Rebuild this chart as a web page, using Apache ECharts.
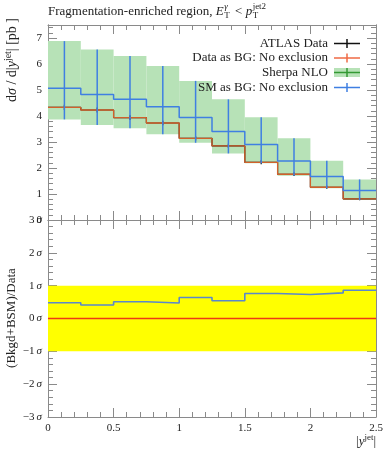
<!DOCTYPE html>
<html><head><meta charset="utf-8">
<script src="https://cdn.jsdelivr.net/npm/echarts@6/dist/echarts.min.js"></script>
<style>html,body{margin:0;padding:0;background:#fff}#c{width:389px;height:450px}</style>
</head><body><div id="c"></div>
<script>
// ---- data ----
const binEdges   = [0, 0.25, 0.5, 0.75, 1.0, 1.25, 1.5, 1.75, 2.0, 2.25, 2.5];
const dataVals   = [4.33, 4.23, 3.94, 3.73, 3.14, 2.85, 2.22, 1.76, 1.26, 0.81];
const dataErr    = [0.10, 0.10, 0.09, 0.09, 0.08, 0.08, 0.08, 0.07, 0.06, 0.05];
const smVals     = [5.07, 4.83, 4.64, 4.36, 3.94, 3.40, 2.90, 2.27, 1.67, 1.13];
const sherpaLo   = [3.87, 3.65, 3.53, 3.30, 2.97, 2.56, 2.18, 1.70, 1.22, 0.77];
const sherpaHi   = [6.88, 6.56, 6.31, 5.92, 5.35, 4.64, 3.95, 3.14, 2.28, 1.56];
const dataSigma  = [0, 0, 0, 0, 0, 0, 0, 0, 0, 0];
const smSigma    = [0.48, 0.41, 0.51, 0.47, 0.64, 0.54, 0.76, 0.73, 0.78, 0.86];
const sigmaBand  = [-1, 1];
const xTickLabels = ['0', '0.5', '1', '1.5', '2', '2.5'];
const yTopLabels  = ['0', '1', '2', '3', '4', '5', '6', '7'];
const ySigmaLabels = ['−3', '−2', '−1', '0', '1', '2', '3'];
const legendNames = ['ATLAS Data', 'Data as BG: No exclusion', 'Sherpa NLO', 'SM as BG: No exclusion'];

// ---- helpers ----
const SERIF = '"Liberation Serif", "DejaVu Serif", serif';
const nb = binEdges.length - 1;
function stepData(vals) {
  return binEdges.map((e, i) => [e, vals[Math.min(i, vals.length - 1)]]);
}
function bandData(lo, hi) {
  const out = [];
  for (let i = 0; i < nb; i++) out.push([binEdges[i], binEdges[i + 1], lo[i], hi[i]]);
  return out;
}
function errData(lo, hi) {
  const out = [];
  for (let i = 0; i < nb; i++) out.push([(binEdges[i] + binEdges[i + 1]) / 2, lo[i], hi[i]]);
  return out;
}
function rectRender(fill) {
  return function (params, api) {
    const p0 = api.coord([api.value(0), api.value(3)]);
    const p1 = api.coord([api.value(1), api.value(2)]);
    return { type: 'rect', shape: { x: p0[0], y: p0[1], width: p1[0] - p0[0], height: p1[1] - p0[1] },
      style: { fill: fill }, silent: true };
  };
}
function errRender(color, w) {
  return function (params, api) {
    const a = api.coord([api.value(0), api.value(1)]);
    const b = api.coord([api.value(0), api.value(2)]);
    return { type: 'line', shape: { x1: a[0], y1: a[1], x2: b[0], y2: b[1] },
      style: { stroke: color, lineWidth: w }, silent: true };
  };
}
function tickLabelX(v) {
  const idx = xTickLabels.findIndex(t => Math.abs(parseFloat(t) - v) < 1e-6);
  return idx >= 0 ? xTickLabels[idx] : '';
}
const canvas = document.createElement('canvas');
const ctx = canvas.getContext('2d');
function tw(text, font) { ctx.font = font; return ctx.measureText(text).width; }

const AX = '#8a8a8a';
function xAxisCfg(grid, pos, labels) {
  return {
    gridIndex: grid, type: 'value', position: pos, min: 0, max: 2.5, interval: 0.5,
    axisLine: { show: true, onZero: false, lineStyle: { color: AX, width: 1 } },
    axisTick: { show: true, inside: true, length: 9, lineStyle: { color: AX } },
    minorTick: { show: true, splitNumber: 5, length: 5, lineStyle: { color: AX } },
    splitLine: { show: false },
    axisLabel: labels ? { show: true, margin: 6, color: '#222', fontFamily: SERIF, fontSize: 11,
      formatter: tickLabelX } : { show: false }
  };
}
function yAxisCfg(grid, pos, min, max, interval, len, labels, minor, formatter) {
  return {
    gridIndex: grid, type: 'value', position: pos, min: min, max: max, interval: interval,
    axisLine: { show: true, onZero: false, lineStyle: { color: AX, width: 1 } },
    axisTick: { show: true, inside: true, length: len, lineStyle: { color: AX } },
    minorTick: minor ? { show: true, splitNumber: 5, length: 5, lineStyle: { color: AX } } : { show: false },
    splitLine: { show: false },
    axisLabel: labels ? { show: true, margin: 6, color: '#222', fontFamily: SERIF, fontSize: 11,
      formatter: formatter, rich: {
        n: { fontFamily: SERIF, fontSize: 11, color: '#222' },
        s: { fontFamily: SERIF, fontSize: 11, fontStyle: 'italic', color: '#222', padding: [0, 0, 0, 2] } } }
      : { show: false }
  };
}
const topFmt = v => {
  const i = yTopLabels.indexOf(String(v));
  return i >= 0 ? yTopLabels[i] : '';
};
const sigFmt = v => {
  const i = Math.round(v) + 3;
  return (Math.abs(v - Math.round(v)) < 1e-6 && ySigmaLabels[i] !== undefined) ? '{n|' + ySigmaLabels[i] + '}{s|σ}' : '';
};

// ---- colours ----
const GREEN = '#b7e2b7', BLUE = '#3f7fe2', ORANGE = '#d2612a', BLACK = '#111', RED = '#ee3a14', YELLOW = '#ffff00';

// ---- graphics (title, axis titles, legend) ----
const g = [];
const F13 = '13px ' + SERIF, F13I = 'italic 13px ' + SERIF, F9 = '9px ' + SERIF, F9I = 'italic 9px ' + SERIF;
const F14 = '14px ' + SERIF, F14I = 'italic 14px ' + SERIF, F10 = '10px ' + SERIF;
function txt(x, y, text, font, align) {
  g.push({ type: 'text', x: x, y: y, silent: true, z: 100,
    style: { text: text, font: font, fill: '#222', align: align || 'left', verticalAlign: 'middle' } });
}
// title
(function () {
  let x = 48; const y = 12;
  const t1 = 'Fragmentation-enriched region, ';
  txt(x, y, t1, F13); x += tw(t1, F13);
  txt(x, y, 'E', F13I); x += tw('E', F13I) + 0.5;
  txt(x, y + 4, 'T', F9); txt(x, y - 5, 'γ', F9I);
  x += Math.max(tw('T', F9), tw('γ', F9I)) + 2;
  txt(x, y, ' < ', F13); x += tw(' < ', F13);
  txt(x, y, 'p', F13I); x += tw('p', F13I) + 0.5;
  txt(x, y + 4, 'T', F9); txt(x, y - 5, 'jet2', F9);
})();
// y-axis titles
g.push({ type: 'text', x: 12, y: 18, rotation: Math.PI / 2, silent: true, z: 100,
  style: { text: '{a|d}{i|σ}{a| / d|}{i|y}{p|jet}{a|| [pb ]}', align: 'right', verticalAlign: 'middle',
    rich: { a: { font: F14, fill: '#222' }, i: { font: F14I, fill: '#222' },
      p: { font: F10, fill: '#222', padding: [0, 0, 8, 0] } } } });
g.push({ type: 'text', x: 12, y: 318, rotation: Math.PI / 2, silent: true, z: 100,
  style: { text: '(Bkgd+BSM)/Data', font: F13, fill: '#222', align: 'center', verticalAlign: 'middle' } });
// x-axis title
g.push({ type: 'text', x: 376, y: 442, silent: true, z: 100,
  style: { text: '{a||}{i|y}{p|jet}{a||}', align: 'right', verticalAlign: 'middle',
    rich: { a: { font: F13, fill: '#222' }, i: { font: F13I, fill: '#222' },
      p: { font: F9, fill: '#222', padding: [0, 0, 8, 0] } } } });
// legend
const legY = [43.5, 58, 72.5, 87.5];
const legCol = [BLACK, '#ef6a45', '#339933', BLUE];
legendNames.forEach((name, i) => {
  txt(328, legY[i], name, F13, 'right');
  if (i === 2) {
    g.push({ type: 'rect', silent: true, z: 100, shape: { x: 334, y: legY[i] - 4.5, width: 26, height: 9 }, style: { fill: GREEN } });
  }
  g.push({ type: 'line', silent: true, z: 101, shape: { x1: 334, y1: legY[i], x2: 360, y2: legY[i] }, style: { stroke: legCol[i], lineWidth: 1.5 } });
  g.push({ type: 'line', silent: true, z: 101, shape: { x1: 347, y1: legY[i] - 4.5, x2: 347, y2: legY[i] + 4.5 }, style: { stroke: legCol[i], lineWidth: 1.5 } });
});

// ---- chart ----
const chart = echarts.init(document.getElementById('c'), null, { renderer: 'canvas' });
const lineS = (xi, yi, data, color, w, z) => ({
  type: 'line', xAxisIndex: xi, yAxisIndex: yi, data: data, step: 'end', symbol: 'none',
  lineStyle: { color: color, width: w }, silent: true, animation: false, z: z
});
chart.setOption({
  animation: false,
  backgroundColor: '#fff',
  grid: [
    { left: 48, top: 25, width: 328, height: 195 },
    { left: 48, top: 220, width: 328, height: 197 }
  ],
  xAxis: [
    xAxisCfg(0, 'bottom', false), xAxisCfg(0, 'top', false),
    xAxisCfg(1, 'bottom', true), xAxisCfg(1, 'top', false)
  ],
  yAxis: [
    yAxisCfg(0, 'left', 0, 7.5, 1, 9, true, false, topFmt),
    yAxisCfg(0, 'right', 0, 7.5, 1, 9, false, false),
    yAxisCfg(0, 'left', 0, 7.5, 0.2, 5, false, false),
    yAxisCfg(0, 'right', 0, 7.5, 0.2, 5, false, false),
    yAxisCfg(1, 'left', -3, 3, 1, 9, true, true, sigFmt),
    yAxisCfg(1, 'right', -3, 3, 1, 9, false, true)
  ],
  graphic: g,
  series: [
    { type: 'custom', xAxisIndex: 0, yAxisIndex: 0, data: bandData(sherpaLo, sherpaHi), renderItem: rectRender(GREEN), z: 1 },
    lineS(0, 0, stepData(dataVals), BLACK, 1.2, 2),
    { type: 'custom', xAxisIndex: 0, yAxisIndex: 0, z: 2,
      data: errData(dataVals.map((v, i) => v - dataErr[i]), dataVals.map((v, i) => v + dataErr[i])), renderItem: errRender(BLACK, 1.2) },
    lineS(0, 0, stepData(dataVals), ORANGE, 1.3, 3),
    { type: 'custom', xAxisIndex: 0, yAxisIndex: 0, z: 4, data: errData(sherpaLo, sherpaHi), renderItem: errRender(BLUE, 1.5) },
    lineS(0, 0, stepData(smVals), BLUE, 1.5, 4),
    { type: 'custom', xAxisIndex: 2, yAxisIndex: 4, data: [[0, 2.5, sigmaBand[0], sigmaBand[1]]], renderItem: rectRender(YELLOW), z: 1 },
    lineS(2, 4, stepData(dataSigma), RED, 1.3, 3),
    lineS(2, 4, stepData(smSigma), '#5a88cc', 1.6, 4)
  ]
});
</script></body></html>
